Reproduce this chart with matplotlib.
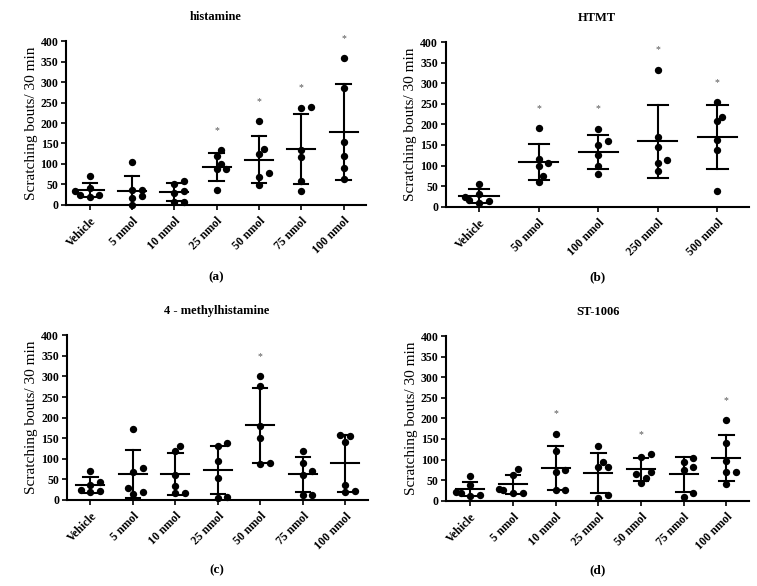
import numpy as np
import matplotlib
matplotlib.use("Agg")
import matplotlib.pyplot as plt

plt.rcParams["font.family"] = ["Liberation Serif", "DejaVu Serif"]

# ---- data (scratching bouts / 30 min, n = 6) ----
hist_labels = ["Vehicle", "5 nmol", "10 nmol", "25 nmol", "50 nmol", "75 nmol", "100 nmol"]
hist_values = [
    [70, 42, 33, 24, 24, 20],
    [105, 37, 36, 21, 16, 0],
    [59, 51, 33, 29, 7, 7],
    [133, 119, 100, 87, 87, 37],
    [205, 137, 123, 77, 69, 49],
    [236, 239, 134, 117, 58, 34],
    [358, 285, 154, 119, 89, 64],
]
hist_mean = [36, 34, 32, 92, 110, 136, 178]
hist_sd = [18, 37, 22, 34, 57, 85, 118]
hist_sig = [False, False, False, True, True, True, True]

htmt_labels = ["Vehicle", "50 nmol", "100 nmol", "250 nmol", "500 nmol"]
htmt_values = [
    [55, 32, 23, 16, 13, 10],
    [190, 117, 105, 100, 75, 61],
    [189, 160, 150, 125, 100, 79],
    [333, 169, 146, 113, 105, 87],
    [254, 219, 207, 162, 137, 37],
]
htmt_mean = [25, 108, 133, 159, 169]
htmt_sd = [17, 44, 41, 89, 77]
htmt_sig = [False, True, True, True, True]

mh_labels = ["Vehicle", "5 nmol", "10 nmol", "25 nmol", "50 nmol", "75 nmol", "100 nmol"]
mh_values = [
    [71, 44, 36, 25, 20, 22],
    [172, 77, 67, 28, 20, 15],
    [131, 120, 61, 35, 17, 17],
    [138, 132, 94, 53, 5, 8],
    [300, 278, 180, 150, 87, 91],
    [119, 89, 70, 61, 12, 12],
    [158, 156, 142, 37, 23, 19],
]
mh_mean = [36, 63, 63, 72, 181, 62, 89]
mh_sd = [19, 59, 50, 58, 90, 42, 69]
mh_sig = [False, False, False, False, True, False, False]

st_labels = ["Vehicle", "5 nmol", "10 nmol", "25 nmol", "50 nmol", "75 nmol", "100 nmol"]
st_values = [
    [59, 38, 20, 19, 14, 11],
    [76, 62, 29, 27, 19, 19],
    [163, 120, 75, 70, 25, 25],
    [133, 94, 82, 82, 13, 6],
    [113, 105, 70, 66, 56, 43],
    [104, 95, 82, 74, 19, 9],
    [196, 140, 96, 69, 69, 40],
]
st_mean = [28, 40, 80, 68, 76, 64, 103]
st_sd = [17, 23, 54, 49, 27, 42, 56]
st_sig = [False, False, True, False, True, False, True]

W, H, DPI = 757, 586, 100


def swarm_offsets(values, px_per_y, step=4.8, min_dist=6.5):
    # simple greedy beeswarm, works in pixels
    order = np.argsort(values)
    placed = []
    offsets = np.zeros(len(values))
    for idx in order:
        y = values[idx] * px_per_y
        for k in [0, 1, -1, 2, -2, 3, -3]:
            x = k * step
            if all(np.hypot(x - px, y - py) >= min_dist for px, py in placed):
                break
        placed.append((x, y))
        offsets[idx] = x
    return offsets


def draw_panel(fig, rect, title, tag, tag_y, labels, values, means, sds, sig):
    ax = fig.add_axes(rect)
    n = len(labels)
    ax.set_xlim(-0.56, n - 1 + 0.53)
    ax.set_ylim(0, 400)

    px_per_x = rect[2] * W / (n - 1 + 0.53 + 0.56)
    px_per_y = rect[3] * H / 400

    for i in range(n):
        vals = np.array(values[i], dtype=float)
        offs = swarm_offsets(vals, px_per_y)
        ax.scatter(i + offs / px_per_x, vals, s=28, color="black",
                   zorder=3, clip_on=False, linewidths=0)

        m, sd = means[i], sds[i]
        ax.plot([i - 0.33, i + 0.33], [m, m], color="black", lw=1.5, zorder=4)
        ax.plot([i, i], [m - sd, m + sd], color="black", lw=1.5, zorder=4)
        ax.plot([i - 0.17, i + 0.17], [m + sd, m + sd], color="black", lw=1.5, zorder=4)
        ax.plot([i - 0.17, i + 0.17], [m - sd, m - sd], color="black", lw=1.5, zorder=4)

        if sig[i]:
            ax.annotate("*", (i, vals.max()), xytext=(0, 11), textcoords="offset points",
                        ha="center", va="bottom", fontsize=7, color="#555555",
                        annotation_clip=False)

    for side in ["top", "right"]:
        ax.spines[side].set_visible(False)
    for side in ["left", "bottom"]:
        ax.spines[side].set_linewidth(1.5)

    ax.set_yticks(range(0, 401, 50))
    ax.set_xticks(range(n))
    ax.set_xticklabels(labels, rotation=45, ha="right", rotation_mode="anchor",
                       fontweight="bold", fontsize=8.5)
    for lab in ax.get_yticklabels():
        lab.set_fontweight("bold")
    ax.tick_params(axis="both", width=1.2, length=3.5, labelsize=8.5, pad=2)
    ax.tick_params(axis="x", pad=4)
    ax.set_ylabel("Scratching bouts/ 30 min", fontsize=11, labelpad=2)
    ax.set_title(title, fontsize=9, fontweight="bold", pad=15)

    cx = rect[0] + rect[2] / 2
    fig.text(cx, tag_y, tag, ha="center", va="center", fontsize=9.5, fontweight="bold")
    return ax


fig = plt.figure(figsize=(W / DPI, H / DPI), dpi=DPI)

draw_panel(fig, [0.0872, 0.6507, 0.3963, 0.2788], "histamine", "(a)", 0.527,
           hist_labels, hist_values, hist_mean, hist_sd, hist_sig)
draw_panel(fig, [0.5888, 0.6473, 0.4006, 0.2810], "HTMT", "(b)", 0.527,
           htmt_labels, htmt_values, htmt_mean, htmt_sd, htmt_sig)
draw_panel(fig, [0.0881, 0.1468, 0.3976, 0.2810], "4 - methylhistamine", "(c)", 0.026,
           mh_labels, mh_values, mh_mean, mh_sd, mh_sig)
draw_panel(fig, [0.5896, 0.1456, 0.3998, 0.2810], "ST-1006", "(d)", 0.027,
           st_labels, st_values, st_mean, st_sd, st_sig)

fig.savefig("out.png", dpi=DPI)
